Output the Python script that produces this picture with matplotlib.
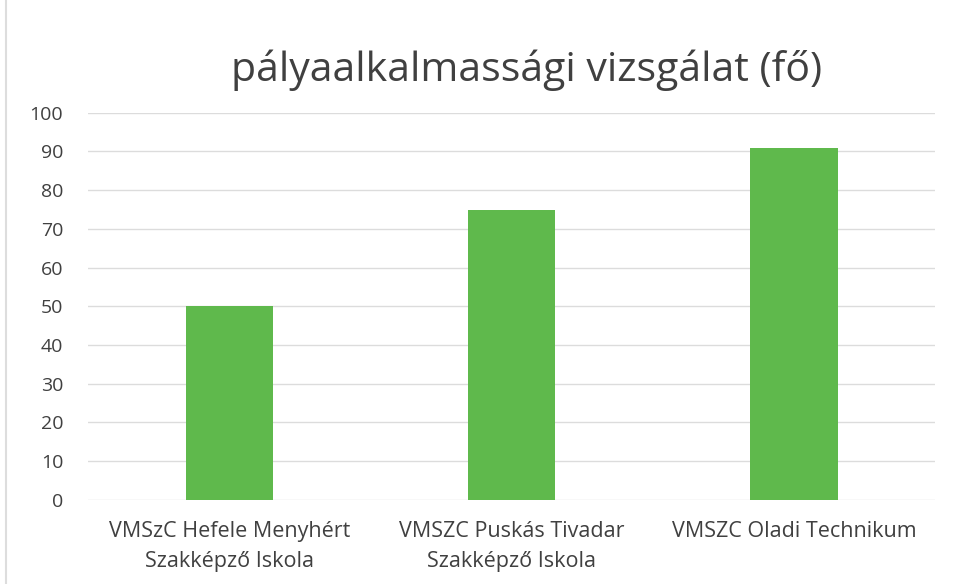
import matplotlib.pyplot as plt
from matplotlib.lines import Line2D
import numpy as np

# data
schools = ["VMSzC Hefele Menyhért\nSzakképző Iskola",
           "VMSZC Puskás Tivadar\nSzakképző Iskola",
           "VMSZC Oladi Technikum"]
counts = [50, 75, 91]
yticks = list(range(0, 101, 10))

plt.rcParams['font.family'] = ['Open Sans', 'DejaVu Sans']

fig = plt.figure(figsize=(9.58, 5.84), dpi=100)
ax = fig.add_axes([0.092, 0.144, 0.884, 0.663])

x = np.arange(len(schools))
ax.bar(x, counts, width=0.31, color='#5fb94c', zorder=3)

ax.set_ylim(0, 100)
ax.set_xlim(-0.5, len(schools) - 0.5)
ax.set_yticks(yticks)
ax.set_xticks(x)
ax.set_xticklabels(schools, fontsize=15.5, color='#404040', va='top', linespacing=1.6)
ax.tick_params(axis='y', labelsize=14, colors='#404040', length=0, pad=18)
ax.tick_params(axis='x', length=0, pad=15)
ax.grid(axis='y', color='#dcdcdc', linewidth=1, zorder=0)
for s in ax.spines.values():
    s.set_visible(False)

fig.text(0.55, 0.88, "pályaalkalmassági vizsgálat (fő)", ha='center', va='center',
         fontsize=29.5, color='#404040')

# faint chart border on the left
fig.add_artist(Line2D([0.006, 0.006], [0.0, 1.0], color='#dddddd', linewidth=1.5))

fig.savefig("out.png", dpi=100)
